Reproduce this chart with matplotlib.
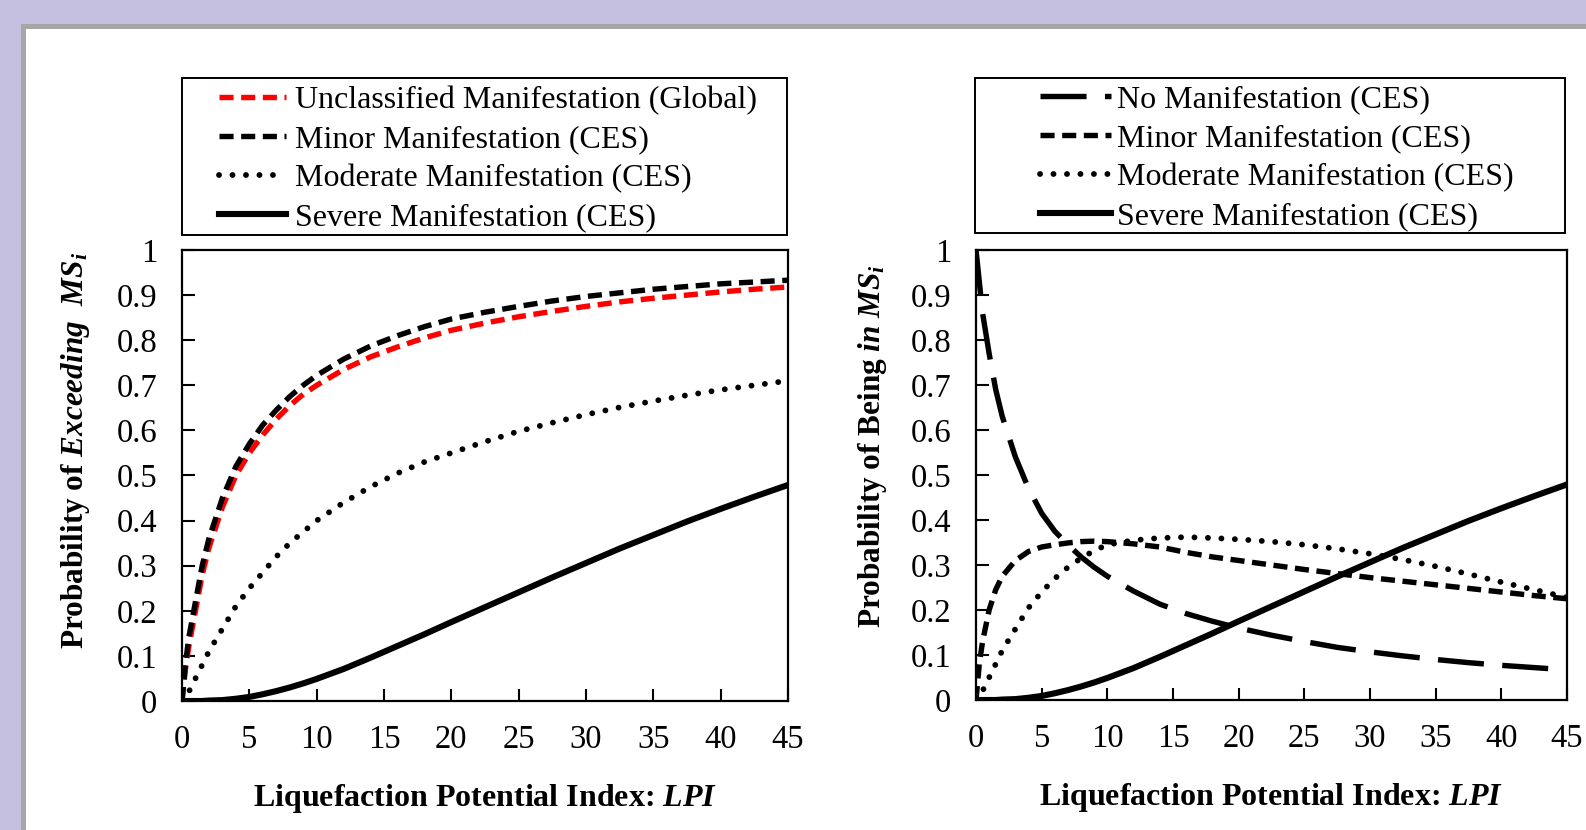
import matplotlib
matplotlib.use("Agg")
import matplotlib.pyplot as plt
from matplotlib.patches import Rectangle
from matplotlib.lines import Line2D

plt.rcParams['font.family'] = ['Liberation Serif', 'DejaVu Serif']
plt.rcParams['mathtext.fontset'] = 'custom'
plt.rcParams['mathtext.rm'] = 'Liberation Serif'
plt.rcParams['mathtext.it'] = 'Liberation Serif:italic'
plt.rcParams['mathtext.bf'] = 'Liberation Serif:bold'
plt.rcParams['mathtext.bfit'] = 'Liberation Serif:italic:bold'

# LPI sample points
lpi = [0, 0.25, 0.5, 1, 1.5, 2, 3, 4, 5, 6, 7, 8, 9, 10, 12, 14, 16, 18, 20,
       22.5, 25, 27.5, 30, 32.5, 35, 37.5, 40, 42.5, 45]

# left panel: probability of exceeding
exc_global = [0, 0.07, 0.12, 0.20, 0.28, 0.34, 0.43, 0.50, 0.55, 0.59, 0.625, 0.655, 0.68, 0.70,
              0.735, 0.763, 0.785, 0.805, 0.822, 0.838, 0.852, 0.864, 0.875, 0.885, 0.893, 0.90,
              0.907, 0.913, 0.918]
exc_minor = [0, 0.08, 0.14, 0.22, 0.30, 0.36, 0.45, 0.52, 0.57, 0.612, 0.645, 0.675, 0.70, 0.722,
             0.758, 0.787, 0.81, 0.83, 0.847, 0.862, 0.875, 0.887, 0.897, 0.905, 0.913, 0.919,
             0.925, 0.929, 0.933]
exc_moderate = [0, 0.005, 0.02, 0.05, 0.08, 0.11, 0.16, 0.21, 0.25, 0.285, 0.32, 0.35, 0.375, 0.40,
                0.44, 0.475, 0.505, 0.53, 0.55, 0.575, 0.598, 0.617, 0.635, 0.651, 0.665, 0.678,
                0.69, 0.70, 0.71]
exc_severe = [0, 0, 0, 0, 0, 0.001, 0.002, 0.005, 0.009, 0.015, 0.022, 0.03, 0.039, 0.049,
              0.071, 0.096, 0.122, 0.148, 0.175, 0.208, 0.241, 0.274, 0.306, 0.338, 0.368, 0.398,
              0.426, 0.453, 0.479]

# right panel: probability of being in
in_none = [1, 0.93, 0.86, 0.77, 0.69, 0.63, 0.54, 0.47, 0.415, 0.375, 0.345, 0.318, 0.295, 0.275,
           0.242, 0.213, 0.192, 0.175, 0.16, 0.144, 0.13, 0.117, 0.107, 0.098, 0.09, 0.083,
           0.077, 0.072, 0.067]
in_minor = [0, 0.08, 0.13, 0.20, 0.245, 0.275, 0.31, 0.33, 0.34, 0.345, 0.349, 0.352, 0.353, 0.352,
            0.347, 0.34, 0.328, 0.318, 0.31, 0.30, 0.29, 0.281, 0.272, 0.264, 0.256, 0.248,
            0.24, 0.232, 0.225]
in_moderate = [0, 0.005, 0.02, 0.05, 0.08, 0.11, 0.158, 0.205, 0.24, 0.27, 0.295, 0.315, 0.332,
               0.345, 0.355, 0.36, 0.362, 0.36, 0.357, 0.352, 0.345, 0.336, 0.325, 0.312, 0.297,
               0.28, 0.262, 0.245, 0.228]
in_severe = exc_severe

xticks = [0, 5, 10, 15, 20, 25, 30, 35, 40, 45]
yticks = [0, 0.1, 0.2, 0.3, 0.4, 0.5, 0.6, 0.7, 0.8, 0.9, 1]
ytick_labels = ['0', '0.1', '0.2', '0.3', '0.4', '0.5', '0.6', '0.7', '0.8', '0.9', '1']

W, H = 1586, 830
fig = plt.figure(figsize=(W / 100, H / 100), dpi=100, facecolor='#C5BFE0')

# white panel with grey border
fig.patches.append(Rectangle((22.5 / W, -0.1), 1.2, (H - 26.5) / H + 0.1,
                             transform=fig.transFigure, facecolor='white',
                             edgecolor='#A6A6A6', linewidth=3.6, zorder=-10))

LW = 3.9
long_dash = dict(color='black', lw=LW, dashes=(8.5, 3.4))
dash = dict(color='black', lw=LW, dashes=(2.6, 1.4))
red_dash = dict(color='#FF0000', lw=LW, dashes=(2.6, 1.4))
dots = dict(color='black', lw=4.2, dashes=(0.01, 2.3), dash_capstyle='round')
solid = dict(color='black', lw=4.4)


def style_axes(ax):
    ax.set_xlim(0, 45)
    ax.set_ylim(0, 1)
    ax.set_xticks(xticks)
    ax.set_yticks(yticks)
    ax.set_yticklabels(ytick_labels)
    ax.tick_params(direction='in', length=9, width=1.5, labelsize=23.5)
    ax.tick_params(axis='x', pad=17)
    ax.tick_params(axis='y', pad=18)
    for s in ax.spines.values():
        s.set_linewidth(1.6)
    ax.set_xlabel(r'Liquefaction Potential Index: $\mathbfit{LPI}$',
                  fontsize=23, fontweight='bold', labelpad=19)


def legend_box(x0, x1, y0, y1):
    fig.patches.append(Rectangle((x0 / W, 1 - y1 / H), (x1 - x0) / W, (y1 - y0) / H,
                                 transform=fig.transFigure, facecolor='white',
                                 edgecolor='black', linewidth=1.4, zorder=-5))


ax1 = fig.add_axes([182 / W, 1 - 701 / H, 606 / W, 451 / H])
ax1.plot(lpi, exc_severe, **solid, label='Severe Manifestation (CES)')
ax1.plot(lpi, exc_moderate, **dots, label='Moderate Manifestation (CES)')
ax1.plot(lpi, exc_global, **red_dash, label='Unclassified Manifestation (Global)')
ax1.plot(lpi, exc_minor, **dash, label='Minor Manifestation (CES)')
style_axes(ax1)
ax1.set_ylabel(r'Probability of $\mathbfit{Exceeding}$  $\mathbfit{MS_i}$',
               fontsize=22.5, fontweight='bold')
ax1.yaxis.set_label_coords(-0.149, 0.556)

ax2 = fig.add_axes([976 / W, 1 - 700 / H, 591 / W, 450 / H])
ax2.plot(lpi, in_none, **long_dash, label='No Manifestation (CES)')
ax2.plot(lpi, in_minor, **dash, label='Minor Manifestation (CES)')
ax2.plot(lpi, in_moderate, **dots, label='Moderate Manifestation (CES)')
ax2.plot(lpi, in_severe, **solid, label='Severe Manifestation (CES)')
style_axes(ax2)
ax2.set_ylabel(r'Probability of Being $\mathbfit{in\ MS_i}$',
               fontsize=22.5, fontweight='bold')
ax2.yaxis.set_label_coords(-0.147, 0.565)

# legends in boxes above the axes
legend_box(182, 787, 78, 235)
h1 = [Line2D([], [], **red_dash), Line2D([], [], **dash),
      Line2D([], [], **dots), Line2D([], [], **solid)]
l1 = ['Unclassified Manifestation (Global)', 'Minor Manifestation (CES)',
      'Moderate Manifestation (CES)', 'Severe Manifestation (CES)']
fig.legend(h1, l1, loc='center', bbox_to_anchor=(488 / W, 1 - 159 / H),
           frameon=False, fontsize=23, handlelength=2.1, handletextpad=0.3,
           labelspacing=0.3, borderpad=0)

legend_box(975, 1565, 78, 233)
h2 = [Line2D([], [], **long_dash), Line2D([], [], **dash),
      Line2D([], [], **dots), Line2D([], [], **solid)]
l2 = ['No Manifestation (CES)', 'Minor Manifestation (CES)',
      'Moderate Manifestation (CES)', 'Severe Manifestation (CES)']
fig.legend(h2, l2, loc='center', bbox_to_anchor=(1277 / W, 1 - 158 / H),
           frameon=False, fontsize=23, handlelength=2.2, handletextpad=0.2,
           labelspacing=0.3, borderpad=0)

fig.savefig('out.png', dpi=100, facecolor=fig.get_facecolor())
